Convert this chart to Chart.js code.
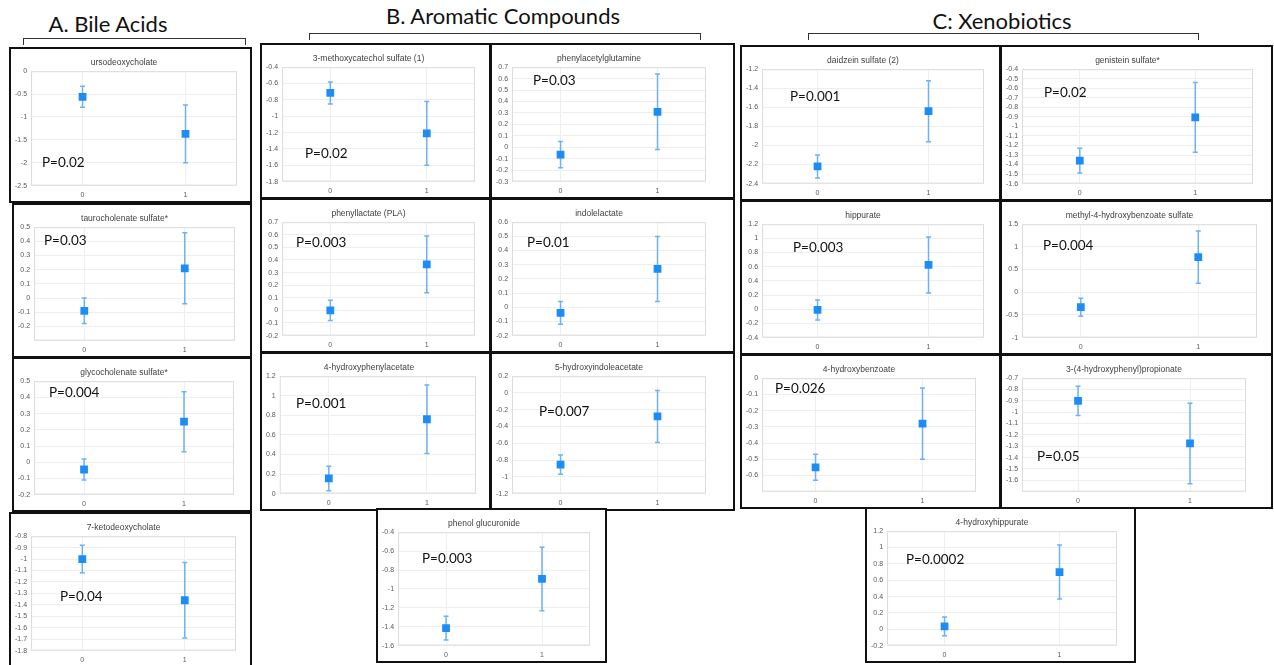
<!DOCTYPE html>
<html>
<head>
<meta charset="utf-8">
<script src="https://cdn.jsdelivr.net/npm/chart.js@4.4.1/dist/chart.umd.min.js"></script>
<style>
body { margin: 0; width: 1274px; height: 665px; background: #fff; position: relative; overflow: hidden; font-family: Lato, "Open Sans", sans-serif; }
.panel { position: absolute; border: 2px solid #111; box-sizing: border-box; background: #fff; overflow: hidden; }
.panel canvas { position: absolute; left: 0; top: 0; }
.pval { position: absolute; font-size: 13.5px; line-height: 16px; color: #111; white-space: nowrap; }
.head { position: absolute; font-size: 22px; line-height: 24px; color: #111; white-space: nowrap; transform: translateX(-50%); }
.brace { position: absolute; border: 1.5px solid #333; border-bottom: none; box-sizing: border-box; }
</style>
</head>
<body>
<script>
// metabolite panels, group 0 vs group 1 (mean +/- error)
const groups = ["A. Bile Acids", "B. Aromatic Compounds", "C: Xenobiotics"];

const compounds = [
    "ursodeoxycholate", "taurocholenate sulfate*", "glycocholenate sulfate*", "7-ketodeoxycholate",
    "3-methoxycatechol sulfate (1)", "phenylacetylglutamine", "phenyllactate (PLA)", "indolelactate",
    "4-hydroxyphenylacetate", "5-hydroxyindoleacetate", "phenol glucuronide",
    "daidzein sulfate (2)", "genistein sulfate*", "hippurate", "methyl-4-hydroxybenzoate sulfate",
    "4-hydroxybenzoate", "3-(4-hydroxyphenyl)propionate", "4-hydroxyhippurate",
];
const pValues = [
    "P=0.02", "P=0.03", "P=0.004", "P=0.04",
    "P=0.02", "P=0.03", "P=0.003", "P=0.01", "P=0.001", "P=0.007", "P=0.003",
    "P=0.001", "P=0.02", "P=0.003", "P=0.004", "P=0.026", "P=0.05", "P=0.0002",
];
const mean0 = [-0.56, -0.09, -0.045, -1.0, -0.715, -0.065, 0.0, -0.04, 0.155, -0.855, -1.415, -2.22, -1.36, -0.01, -0.33, -0.55, -0.9, 0.035];
const mean1 = [-1.37, 0.21, 0.25, -1.36, -1.21, 0.31, 0.365, 0.27, 0.76, -0.28, -0.895, -1.64, -0.905, 0.625, 0.775, -0.28, -1.275, 0.70];
const err0 = [0.23, 0.09, 0.065, 0.12, 0.135, 0.115, 0.08, 0.08, 0.125, 0.115, 0.125, 0.12, 0.13, 0.14, 0.2, 0.08, 0.13, 0.115];
const err1 = [0.63, 0.25, 0.185, 0.33, 0.39, 0.33, 0.225, 0.23, 0.35, 0.31, 0.335, 0.32, 0.365, 0.395, 0.575, 0.22, 0.355, 0.33];

// y axis: min, max, step, lowest labelled tick
const yMin = [-2.5, -0.3, -0.2, -1.8, -1.8, -0.3, -0.2, -0.2, 0, -1.2, -1.6, -2.4, -1.6, -0.4, -1, -0.7, -1.7, -0.2];
const yMax = [0, 0.5, 0.5, -0.8, -0.4, 0.7, 0.7, 0.6, 1.2, 0.2, -0.4, -1.2, -0.4, 1.2, 1.5, 0, -0.7, 1.2];
const yStep = [0.5, 0.1, 0.1, 0.1, 0.2, 0.1, 0.1, 0.1, 0.2, 0.2, 0.2, 0.2, 0.1, 0.2, 0.5, 0.1, 0.1, 0.2];
const yFirstLabel = [-2.5, -0.2, -0.2, -1.8, -1.8, -0.3, -0.2, -0.2, 0, -1.2, -1.6, -2.4, -1.6, -0.4, -1, -0.6, -1.6, -0.2];
const xLabels = ["0", "1"];

// page layout: panel box [left, top, width, height, padRight], p-value text [left, centreY]
const boxes = [
    [9, 47, 243, 156, 13], [12, 203, 240, 155, 15], [12, 357, 240, 155, 16], [9, 512, 243, 156, 14],
    [260, 43, 231, 156, 14], [490, 43, 245, 156, 27], [260, 198, 231, 155, 14], [490, 198, 245, 155, 27],
    [260, 352, 231, 159, 13], [490, 352, 245, 159, 27], [376, 508, 231, 155, 15],
    [740, 45, 261, 156, 15], [1000, 45, 273, 156, 18], [740, 200, 261, 155, 15], [1000, 200, 273, 155, 14],
    [740, 354, 261, 155, 23], [1000, 354, 273, 155, 25], [865, 507, 271, 156, 17],
];
const pPos = [
    [33, 115], [32, 37], [37, 35], [51, 84],
    [45, 110], [43, 37], [36, 44], [37, 44], [36, 51], [49, 59], [46, 50],
    [50, 51], [44, 47], [53, 47], [43, 45], [35, 34], [37, 102], [41, 52],
];
const heads = [[108, 12], [503, 4], [1002, 9]];
const braces = [[23, 38, 223, 7], [309, 33, 392, 7], [808, 33, 391, 7]];

const tickFont = { family: "'Liberation Sans Narrow', 'Liberation Sans', Arial", size: 7 };

const errorBars = {
    id: "errorBars",
    beforeDatasetsDraw(chart) {
        const ctx = chart.ctx;
        const a = chart.chartArea;
        const xs = chart.scales.x;
        const ys = chart.scales.y;
        ctx.save();
        ctx.strokeStyle = "#dcdcdc";
        ctx.lineWidth = 1;
        ctx.strokeRect(a.left + 0.5, a.top + 0.5, a.right - a.left - 1, a.bottom - a.top - 1);
        ctx.strokeStyle = "#6cb2f5";
        ctx.lineWidth = 1.5;
        const ds = chart.data.datasets[0];
        ds.data.forEach((p, i) => {
            const x = xs.getPixelForValue(p.x);
            const hi = ys.getPixelForValue(p.y + ds.errors[i]);
            const lo = ys.getPixelForValue(p.y - ds.errors[i]);
            ctx.beginPath();
            ctx.moveTo(x, hi); ctx.lineTo(x, lo);
            ctx.moveTo(x - 2.5, hi); ctx.lineTo(x + 2.5, hi);
            ctx.moveTo(x - 2.5, lo); ctx.lineTo(x + 2.5, lo);
            ctx.stroke();
        });
        ctx.restore();
    },
};

groups.forEach((g, i) => {
    const h = document.createElement("div");
    h.className = "head";
    h.style.left = heads[i][0] + "px";
    h.style.top = heads[i][1] + "px";
    h.textContent = g;
    document.body.appendChild(h);
    const b = document.createElement("div");
    b.className = "brace";
    b.style.left = braces[i][0] + "px";
    b.style.top = braces[i][1] + "px";
    b.style.width = braces[i][2] + "px";
    b.style.height = braces[i][3] + "px";
    document.body.appendChild(b);
});

compounds.forEach((name, i) => {
    const [left, top, w, h, padR] = boxes[i];
    const panel = document.createElement("div");
    panel.className = "panel";
    panel.style.left = left + "px";
    panel.style.top = top + "px";
    panel.style.width = w + "px";
    panel.style.height = h + "px";
    const canvas = document.createElement("canvas");
    canvas.width = w - 4;
    canvas.height = h - 4;
    panel.appendChild(canvas);
    const p = document.createElement("div");
    p.className = "pval";
    p.style.left = (pPos[i][0] - 2) + "px";
    p.style.top = (pPos[i][1] - 10) + "px";
    p.textContent = pValues[i];
    panel.appendChild(p);
    document.body.appendChild(panel);

    new Chart(canvas, {
        type: "scatter",
        data: {
            datasets: [{
                data: [{ x: 0, y: mean0[i] }, { x: 1, y: mean1[i] }],
                errors: [err0[i], err1[i]],
                pointStyle: "rect",
                pointRadius: 5.5,
                backgroundColor: "#1e8cf5",
                borderColor: "#1e8cf5",
                borderWidth: 0,
            }],
        },
        options: {
            responsive: false,
            animation: false,
            events: [],
            layout: { padding: { left: 0, right: padR, top: 0, bottom: -3 } },
            plugins: {
                legend: { display: false },
                tooltip: { enabled: false },
                title: {
                    display: true,
                    text: name,
                    color: "#404040",
                    font: { family: "'Liberation Sans Narrow', 'Liberation Sans', Arial", size: 8.5, weight: "normal" },
                    padding: { top: 9, bottom: 3 },
                },
            },
            scales: {
                x: {
                    type: "linear",
                    min: -0.5,
                    max: 1.5,
                    afterBuildTicks: (axis) => { axis.ticks = [{ value: 0 }, { value: 1 }]; },
                    grid: { color: "#eeeeee", drawTicks: false },
                    border: { display: false },
                    ticks: { padding: 5, color: "#595959", font: tickFont, callback: (v, k) => xLabels[k] },
                },
                y: {
                    min: yMin[i],
                    max: yMax[i],
                    grid: { color: "#eeeeee", drawTicks: false },
                    border: { display: false },
                    ticks: {
                        stepSize: yStep[i],
                        autoSkip: false,
                        padding: 4,
                        color: "#595959",
                        font: tickFont,
                        callback: (v) => (v < yFirstLabel[i] - 1e-6 ? "" : String(+v.toFixed(2))),
                    },
                },
            },
        },
        plugins: [errorBars],
    });
});
</script>
</body>
</html>
